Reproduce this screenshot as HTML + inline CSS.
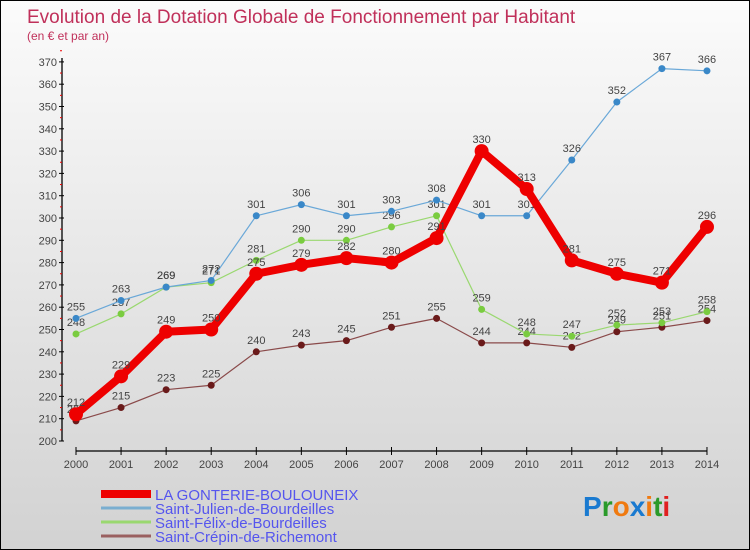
<!DOCTYPE html>
<html><head><meta charset="utf-8"><style>
body{margin:0}
#wrap{width:750px;height:550px;position:relative;overflow:hidden;background:linear-gradient(#fbfbfb,#d2d2d2);border:1px solid #000;box-sizing:border-box;font-family:"Liberation Sans",sans-serif}
svg{position:absolute;left:0;top:0}
</style></head><body>
<div id="wrap">
<svg id="c" width="750" height="550">
<text x="26" y="22" font-size="19" fill="#c0305a">Evolution de la Dotation Globale de Fonctionnement par Habitant</text>
<text x="26" y="39" font-size="12" fill="#c0305a">(en € et par an)</text>
</svg>
</div>
<script>
const years=[2000,2001,2002,2003,2004,2005,2006,2007,2008,2009,2010,2011,2012,2013,2014];
const yTicks=[200,210,220,230,240,250,260,270,280,290,300,310,320,330,340,350,360,370];
const gonterie=[212,229,249,250,275,279,282,280,291,330,313,281,275,271,296];
const julien=[255,263,269,272,301,306,301,303,308,301,301,326,352,367,366];
const felix=[248,257,269,271,281,290,290,296,301,259,248,247,252,253,258];
const crepin=[209,215,223,225,240,243,245,251,255,244,244,242,249,251,254];
const names=["LA GONTERIE-BOULOUNEIX","Saint-Julien-de-Bourdeilles","Saint-Félix-de-Bourdeilles","Saint-Crépin-de-Richemont"];
const NS="http://www.w3.org/2000/svg",svg=document.getElementById('c');
const X=i=>75+i*45.07, Y=v=>440-(v-200)*2.23;
function el(t,a,p){const e=document.createElementNS(NS,t);for(const k in a)e.setAttribute(k,a[k]);(p||svg).appendChild(e);return e;}
// axes
let ax=el('line',{x1:61,y1:57,x2:61,y2:440,stroke:'#000','stroke-width':1.3});


let xa=el('line',{x1:75,y1:450,x2:706,y2:450,stroke:'#000','stroke-width':1.3});


yTicks.forEach(v=>{
 el('line',{x1:58,y1:Y(v),x2:63,y2:Y(v),stroke:'#000'});
 el('line',{x1:59,y1:Y(v+5),x2:61,y2:Y(v+5),stroke:'#e00'});
 const t=el('text',{x:56,y:Y(v)+4,'font-size':11,fill:'#444','text-anchor':'end'});t.textContent=v;
 
 
});
years.forEach((y,i)=>{
 el('line',{x1:X(i),y1:446,x2:X(i),y2:454,stroke:'#000'});
 const t=el('text',{x:X(i),y:467,'font-size':11,fill:'#444','text-anchor':'middle'});t.textContent=y;
 
 
});
function series(d,color,w,r,name,dot){
 const g=el('g',{});
 
 
 el('polyline',{points:d.map((v,i)=>X(i)+','+Y(v)).join(' '),fill:'none',stroke:color,'stroke-width':w,'stroke-linejoin':'round'},g);
 d.forEach((v,i)=>{
  const c=el('circle',{cx:X(i),cy:Y(v),r:r,fill:dot},g);
  
  
  const t=el('text',{x:X(i),y:Y(v)-8,'font-size':11,fill:'#444','text-anchor':'middle'},g);t.textContent=v;
 });
}
series(crepin,'#8a4a4a',1.2,3.5,'series-saint-crepin','#6a1a1a');
series(felix,'#9ad870',1.2,3.5,'series-saint-felix','#7acc40');
series(julien,'#6aa8d8',1.2,3.5,'series-saint-julien','#3a88c8');
series(gonterie,'#ee0000',8,7,'series-la-gonterie','#ee0000');
// legend
const lc=['#ee0000','#7aaed0','#9ad870','#9a6060'],lw=[8,3,3,3];
names.forEach((n,i)=>{
 const y=493+i*14;
 const l=el('line',{x1:100,y1:y,x2:150,y2:y,stroke:lc[i],'stroke-width':lw[i]});
 
 
 const t=el('text',{x:154,y:y+6,'font-size':15,fill:'#5555ee'});t.textContent=n;
 
 
});
const logo=el('text',{x:582,y:515,'font-size':28,'font-weight':'bold'});


[['P','#1a7ad0'],['r','#2a9a2a'],['o','#f07a10'],['x','#1a7ad0'],['i','#f07a10'],['t','#2a9a2a'],['i','#e02020']].forEach(([c,f])=>{const s=el('tspan',{fill:f},logo);s.textContent=c;});
</script>
</body></html>
